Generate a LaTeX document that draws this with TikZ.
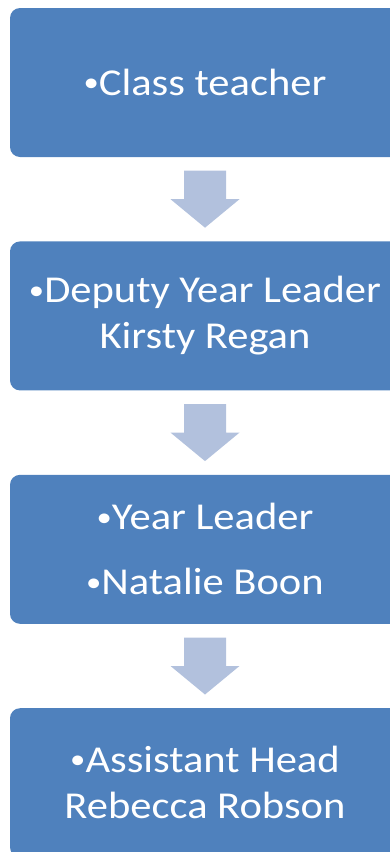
\documentclass[tikz,border=0pt]{standalone}
\usepackage{fontspec}
\setmainfont{Carlito}[FakeStretch=1.12]
\usepackage{tikz}
\usetikzlibrary{positioning,calc}

\definecolor{boxblue}{HTML}{4F81BD}
\definecolor{arrowblue}{HTML}{B2C1DD}
\newcommand{\lbul}{\raisebox{0.1em}{\scalebox{0.72}{•}}}

\begin{document}
\begin{tikzpicture}[x=1pt, y=1pt,
    level/.style={fill=boxblue, rounded corners=10pt, minimum width=390pt,
      minimum height=149pt, text=white, align=center, font=\fontsize{38}{46}\selectfont},
    node distance=84pt]
    \useasboundingbox (0,0) rectangle (390,-852);
    \clip (0,0) rectangle (390,-852);
    \node [level] (b1) at (205,-82.5) {\lbul Class teacher};
    \node [level, below=of b1] (b2) {\lbul Deputy Year Leader\\ Kirsty Regan};
    \node [level, below=of b2] (b3) {\lbul Year Leader\\[19pt] \lbul Natalie Boon};
    \node [level, below=of b3] (b4) {\lbul Assistant Head\\ Rebecca Robson};
    %% block arrows between the levels
    \foreach \a/\b in {b1/b2, b2/b3, b3/b4}
      \fill [arrowblue] ($(\a.south)!0.5!(\b.north)$) ++(-21,28.5) -- ++(42,0)
        -- ++(0,-28.5) -- ++(13.5,0) -- ++(-34.5,-28.5) -- ++(-34.5,28.5)
        -- ++(13.5,0) -- cycle;
\end{tikzpicture}
\end{document}
